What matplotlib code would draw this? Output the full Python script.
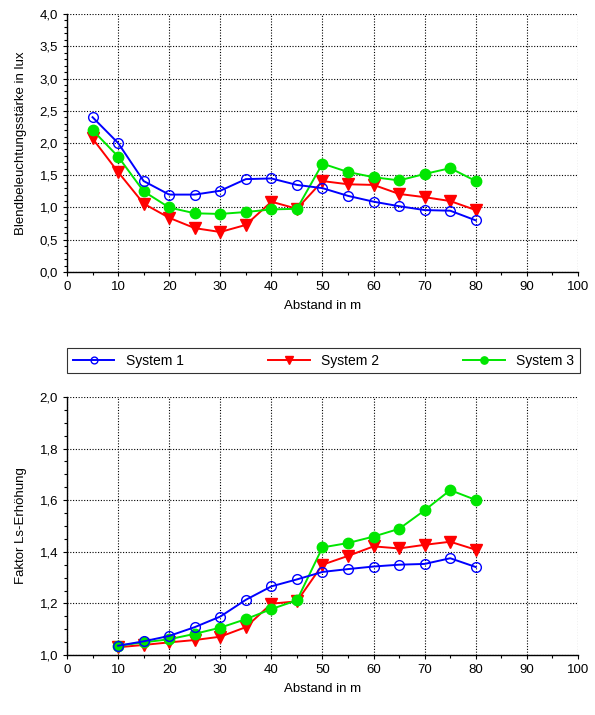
import matplotlib
matplotlib.use("Agg")
import matplotlib.pyplot as plt
from matplotlib.ticker import MultipleLocator, FuncFormatter

plt.rcParams['font.family'] = ['Liberation Sans', 'DejaVu Sans']
plt.rcParams['font.size'] = 9.5

# Blendbeleuchtungsstaerke
abstand_oben = [5, 10, 15, 20, 25, 30, 35, 40, 45, 50, 55, 60, 65, 70, 75, 80]
blend_sys1 = [2.40, 2.00, 1.41, 1.20, 1.20, 1.26, 1.44, 1.45, 1.35, 1.30, 1.18, 1.09, 1.02, 0.96, 0.95, 0.80]
blend_sys2 = [2.07, 1.55, 1.06, 0.84, 0.68, 0.62, 0.73, 1.09, 0.98, 1.41, 1.36, 1.35, 1.21, 1.16, 1.10, 0.96]
blend_sys3 = [2.20, 1.79, 1.25, 1.00, 0.91, 0.90, 0.93, 0.97, 0.98, 1.68, 1.55, 1.47, 1.42, 1.52, 1.61, 1.41]

# Faktor Ls-Erhoehung
abstand_unten = [10, 15, 20, 25, 30, 35, 40, 45, 50, 55, 60, 65, 70, 75, 80]
ls_sys1 = [1.036, 1.053, 1.074, 1.108, 1.149, 1.214, 1.266, 1.293, 1.322, 1.333, 1.343, 1.350, 1.353, 1.375, 1.341]
ls_sys2 = [1.030, 1.039, 1.049, 1.058, 1.071, 1.108, 1.199, 1.208, 1.350, 1.384, 1.421, 1.413, 1.427, 1.439, 1.408]
ls_sys3 = [1.036, 1.049, 1.061, 1.082, 1.106, 1.139, 1.178, 1.212, 1.417, 1.434, 1.459, 1.489, 1.561, 1.639, 1.601]

namen = ["System 1", "System 2", "System 3"]
blau, rot, gruen = "#0000ff", "#ff0000", "#00e600"

komma = FuncFormatter(lambda v, p: f"{v:.1f}".replace(".", ","))

fig = plt.figure(figsize=(5.95, 7.15), dpi=100)
ax1 = fig.add_axes([0.1126, 0.6196, 0.8588, 0.3608])
ax2 = fig.add_axes([0.1126, 0.0839, 0.8588, 0.3609])


def zeichne(ax, x, s1, s2, s3):
    l1, = ax.plot(x, s1, color=blau, lw=1.4, marker="o", ms=7, mfc="none",
                  mec=blau, mew=1.0, zorder=4, clip_on=False)
    l2, = ax.plot(x, s2, color=rot, lw=1.4, marker="v", ms=8, mfc=rot,
                  mec=rot, zorder=2, clip_on=False)
    l3, = ax.plot(x, s3, color=gruen, lw=1.4, marker="o", ms=7.5, mfc=gruen,
                  mec=gruen, zorder=3, clip_on=False)
    ax.set_xlim(0, 100)
    ax.xaxis.set_major_locator(MultipleLocator(10))
    ax.xaxis.set_minor_locator(MultipleLocator(5))
    ax.grid(True, which="major", color="black", linestyle=(0, (1, 1.5)), lw=0.8)
    ax.tick_params(which="both", direction="out", length=3, width=0.8)
    ax.tick_params(which="minor", length=2)
    ax.set_xlabel("Abstand in m", labelpad=5)
    ax.yaxis.set_major_formatter(komma)
    for sp in ax.spines.values():
        sp.set_linewidth(1.0)
    ax.spines["top"].set_visible(False)
    ax.spines["right"].set_visible(False)
    return l1, l2, l3


linien = zeichne(ax1, abstand_oben, blend_sys1, blend_sys2, blend_sys3)
ax1.set_ylim(0, 4.0)
ax1.yaxis.set_major_locator(MultipleLocator(0.5))
ax1.yaxis.set_minor_locator(MultipleLocator(0.1))
ax1.set_ylabel("Blendbeleuchtungsstärke in lux", labelpad=9)

zeichne(ax2, abstand_unten, ls_sys1, ls_sys2, ls_sys3)
ax2.set_ylim(1.0, 2.0)
ax2.yaxis.set_major_locator(MultipleLocator(0.2))
ax2.yaxis.set_minor_locator(MultipleLocator(0.05))
ax2.set_ylabel("Faktor Ls-Erhöhung", labelpad=9)

leg = fig.legend(linien, namen, ncol=3, mode="expand", loc="lower left",
                 bbox_to_anchor=(0.113, 0.478, 0.861, 0.047),
                 frameon=True, fancybox=False, edgecolor="black",
                 handlelength=3.0, markerscale=0.7, borderaxespad=0,
                 fontsize=10)
leg.get_frame().set_linewidth(0.8)

fig.savefig("out.png", dpi=100)
